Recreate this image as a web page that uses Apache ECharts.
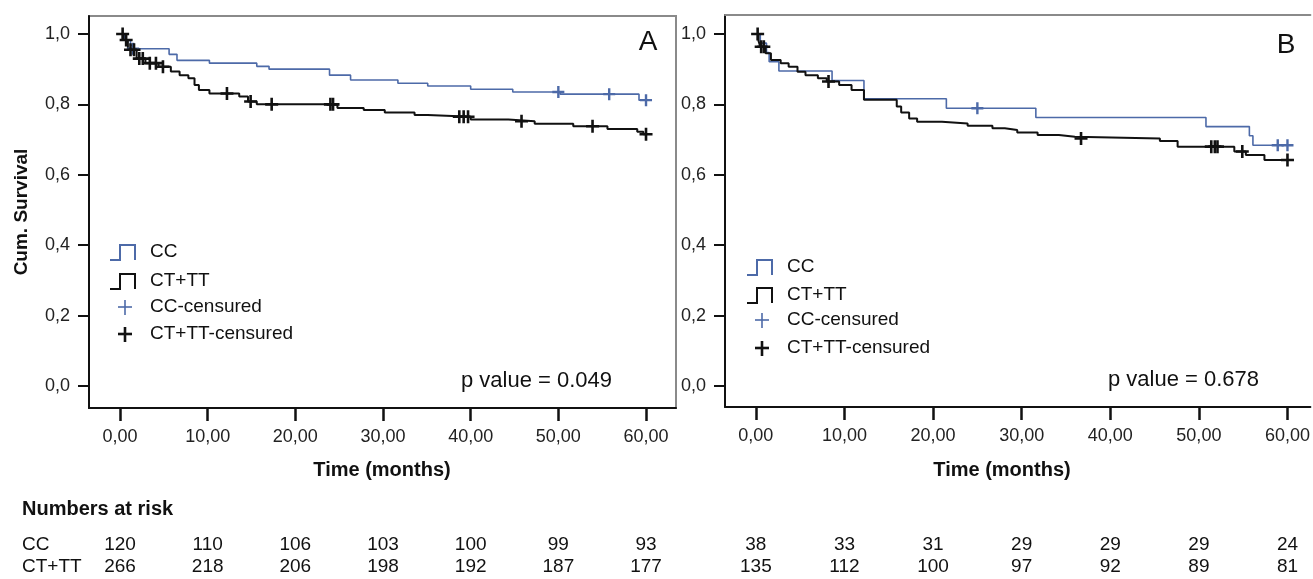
<!DOCTYPE html>
<html>
<head>
<meta charset="utf-8">
<script src="https://cdn.jsdelivr.net/npm/echarts@6/dist/echarts.min.js"></script>
<style>
  html, body { margin: 0; padding: 0; background: #fff; }
  #chart { width: 1313px; height: 579px; }
</style>
</head>
<body>
<div id="chart"></div>
<script>
// tick positions (months / survival)
const timeTicks = [0, 10, 20, 30, 40, 50, 60];
const survTicks = [0, 0.2, 0.4, 0.6, 0.8, 1.0];

// panel A : [time, cumulative survival]
const ccA = [[0,1],[0.5,0.983],[1.2,0.967],[1.5,0.958],[5.6,0.942],[6.5,0.925],[10.2,0.917],[15.6,0.908],[17.0,0.9],[23.9,0.883],[26.3,0.869],[31.7,0.86],[35.1,0.852],[40.0,0.843],[44.8,0.835],[50.2,0.829],[59.2,0.812],[60,0.812]];
const ctA = [[0,1],[0.4,0.983],[0.9,0.955],[1.9,0.93],[2.9,0.917],[4.4,0.907],[5.8,0.893],[6.8,0.883],[7.8,0.874],[8.5,0.855],[9.0,0.841],[10.2,0.831],[13.6,0.822],[14.6,0.808],[15.6,0.8],[24.8,0.79],[27.8,0.784],[30.2,0.777],[33.6,0.77],[35.1,0.765],[40.0,0.757],[44.3,0.752],[47.3,0.745],[51.7,0.738],[55.6,0.73],[59.0,0.722],[59.7,0.715],[60,0.715]];
const ccCensA = [[1.5,0.958],[50.0,0.835],[55.8,0.829],[60,0.812]];
const ctCensA = [[0.3,1],[0.7,0.983],[1.2,0.955],[1.6,0.955],[2.2,0.93],[2.6,0.93],[3.4,0.917],[4.1,0.917],[4.9,0.907],[12.2,0.831],[14.9,0.808],[17.3,0.8],[24.0,0.8],[24.3,0.8],[38.7,0.765],[39.2,0.765],[39.7,0.765],[45.8,0.752],[53.9,0.738],[60,0.715]];

// panel B
const ccB = [[0,1],[0.5,0.974],[1.2,0.947],[1.5,0.921],[2.6,0.895],[8.6,0.868],[12.2,0.816],[21.5,0.789],[31.6,0.763],[50.8,0.737],[55.7,0.711],[56.1,0.684],[60,0.684]];
const ctB = [[0,1],[0.3,0.98],[0.5,0.964],[1.1,0.945],[1.7,0.926],[2.8,0.917],[3.7,0.907],[4.7,0.893],[5.6,0.883],[7.0,0.874],[8.0,0.865],[9.4,0.855],[10.8,0.841],[12.2,0.813],[15.9,0.794],[16.4,0.777],[17.3,0.76],[18.2,0.751],[21.0,0.746],[23.9,0.739],[26.7,0.732],[28.1,0.727],[29.5,0.72],[31.8,0.713],[34.2,0.708],[36.0,0.703],[45.6,0.696],[47.6,0.68],[54.0,0.666],[55.3,0.656],[57.4,0.642],[60,0.642]];
const ccCensB = [[25.0,0.789],[58.9,0.684],[60,0.684]];
const ctCensB = [[0.2,1],[0.6,0.964],[0.9,0.964],[8.2,0.865],[36.7,0.703],[51.4,0.68],[51.8,0.68],[52.1,0.68],[54.9,0.666],[60,0.642]];

// numbers at risk
const groups = ["CC", "CT+TT"];
const riskA = [[120, 110, 106, 103, 100, 99, 93], [266, 218, 206, 198, 192, 187, 177]];
const riskB = [[38, 33, 31, 29, 29, 29, 24], [135, 112, 100, 97, 92, 89, 81]];
const pValues = ["0.049", "0.678"];
const legendNames = ["CC", "CT+TT", "CC-censured", "CT+TT-censured"];

const BLUE = "#4d6aa8";
const BLACK = "#111";
const FONT = "Liberation Sans, Arial, sans-serif";
const PLUS = "path://M4,0H6V4H10V6H6V10H4V6H0V4H4Z";

function xAxisFor(idx, min, max) {
	return {
		type: "value", gridIndex: idx, min: min, max: max,
		splitLine: { show: false },
		axisLine: { onZero: false, lineStyle: { color: BLACK, width: 2 } },
		axisTick: { customValues: timeTicks, length: 13, lineStyle: { color: BLACK, width: 2.5 } },
		axisLabel: {
			customValues: timeTicks, margin: 20, color: "#222",
			fontFamily: FONT, fontSize: 18,
			formatter: (v) => v.toFixed(2).replace(".", ","),
		},
	};
}
function yAxisFor(idx, min, max) {
	return {
		type: "value", gridIndex: idx, min: min, max: max,
		splitLine: { show: false },
		axisLine: { onZero: false, lineStyle: { color: BLACK, width: 2 } },
		axisTick: { customValues: survTicks, length: 11, lineStyle: { color: BLACK, width: 2 } },
		axisLabel: {
			customValues: survTicks, margin: 19, color: "#222",
			fontFamily: FONT, fontSize: 18,
			formatter: (v) => v.toFixed(1).replace(".", ","),
		},
	};
}
function stepLine(data, idx, color, width) {
	return {
		type: "line", step: "end", data: data, xAxisIndex: idx, yAxisIndex: idx,
		showSymbol: false, silent: true,
		lineStyle: { color: color, width: width },
	};
}
function censMarks(data, idx, color, size) {
	return {
		type: "scatter", data: data, xAxisIndex: idx, yAxisIndex: idx,
		symbol: PLUS, symbolSize: size, silent: true,
		itemStyle: { color: color, opacity: 1 }, z: 5,
	};
}

const bMin = -3.483;
const bMax = bMin + 588 / 8.9;

const chart = echarts.init(document.getElementById("chart"));
chart.setOption({
	animation: false,
	grid: [
		{ left: 89, top: 16, width: 587, height: 392, show: true, borderColor: "#8a8a8a", borderWidth: 2 },
		{ left: 725, top: 15, width: 588, height: 392 },
	],
	xAxis: [
		xAxisFor(0, -3.536, 63.42),
		xAxisFor(1, bMin, bMax),
		// plain top frame line for panel B (its right side runs off the page)
		{
			type: "value", gridIndex: 1, position: "top", min: bMin, max: bMax,
			axisLine: { onZero: false, lineStyle: { color: "#8a8a8a", width: 2 } },
			axisTick: { show: false }, axisLabel: { show: false }, splitLine: { show: false },
		},
	],
	yAxis: [yAxisFor(0, -0.0625, 1.051), yAxisFor(1, -0.0597, 1.054)],
	series: [
		stepLine(ccA, 0, BLUE, 1.6),
		stepLine(ctA, 0, BLACK, 2),
		censMarks(ccCensA, 0, BLUE, 12),
		censMarks(ctCensA, 0, BLACK, 13),
		stepLine(ccB, 1, BLUE, 1.6),
		stepLine(ctB, 1, BLACK, 2),
		censMarks(ccCensB, 1, BLUE, 12),
		censMarks(ctCensB, 1, BLACK, 13),
	],
});

// annotations, legends and risk table
const g = [];
function text(x, y, str, opts) {
	g.push({
		type: "text", x: x, y: y, silent: true, rotation: (opts && opts.rotation) || 0,
		style: Object.assign({ text: str, fill: "#111", font: "19px " + FONT, align: "left", verticalAlign: "middle" }, opts && opts.style),
	});
}
function legend(x, rows) {
	const colors = [BLUE, BLACK, BLUE, BLACK];
	rows.forEach((y, i) => {
		if (i < 2) {
			g.push({
				type: "polyline", silent: true,
				shape: { points: [[x, y + 8], [x + 10, y + 8], [x + 10, y - 7], [x + 25, y - 7], [x + 25, y + 8]] },
				style: { stroke: colors[i], lineWidth: 2, fill: null },
			});
		} else {
			const w = i === 2 ? 1.6 : 2.6;
			g.push({ type: "line", silent: true, shape: { x1: x + 8, y1: y, x2: x + 22, y2: y }, style: { stroke: colors[i], lineWidth: w } });
			g.push({ type: "line", silent: true, shape: { x1: x + 15, y1: y - 7, x2: x + 15, y2: y + 8 }, style: { stroke: colors[i], lineWidth: w } });
		}
		text(x + 40, y, legendNames[i]);
	});
}
legend(110, [252, 281, 307, 334]);
legend(747, [267, 295, 320, 348]);

text(648, 42, "A", { style: { font: "28px " + FONT, align: "center" } });
text(1286, 45, "B", { style: { font: "28px " + FONT, align: "center" } });
text(612, 381, "p value = " + pValues[0], { style: { font: "22px " + FONT, align: "right" } });
text(1108, 380, "p value = " + pValues[1], { style: { font: "22px " + FONT } });

text(382, 470, "Time (months)", { style: { font: "bold 20px " + FONT, align: "center" } });
text(1002, 470, "Time (months)", { style: { font: "bold 20px " + FONT, align: "center" } });
text(22, 212, "Cum. Survival", { rotation: Math.PI / 2, style: { font: "bold 19px " + FONT, align: "center" } });

text(22, 509, "Numbers at risk", { style: { font: "bold 20px " + FONT } });
const rowY = [545, 567];
groups.forEach((name, r) => {
	text(22, rowY[r], name);
	timeTicks.forEach((t, c) => {
		const pa = chart.convertToPixel({ gridIndex: 0 }, [t, 0]);
		const pb = chart.convertToPixel({ gridIndex: 1 }, [t, 0]);
		text(pa[0], rowY[r], String(riskA[r][c]), { style: { align: "center" } });
		text(pb[0], rowY[r], String(riskB[r][c]), { style: { align: "center" } });
	});
});

chart.setOption({ graphic: g });
</script>
</body>
</html>
